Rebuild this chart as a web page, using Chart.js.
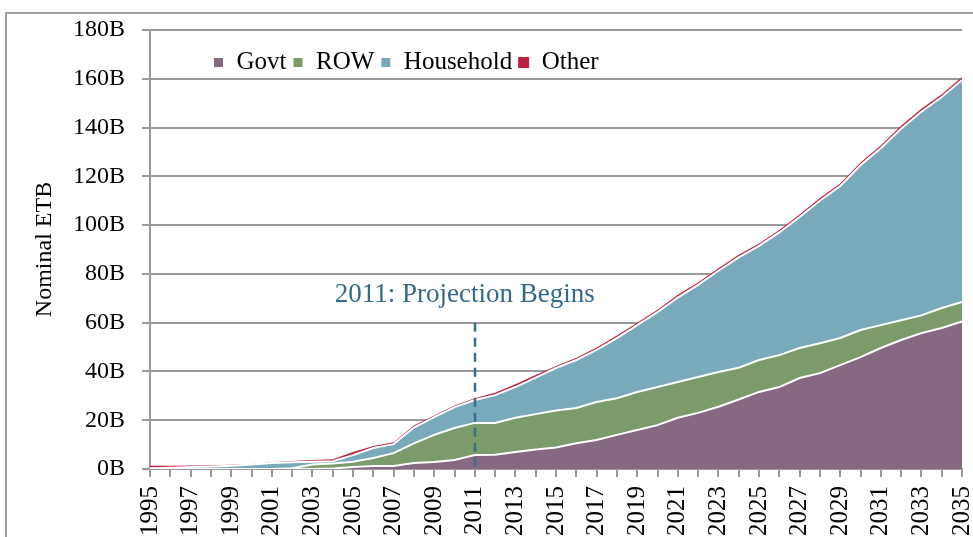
<!DOCTYPE html>
<html>
<head>
<meta charset="utf-8">
<script src="https://cdn.jsdelivr.net/npm/chart.js@4.4.1/dist/chart.umd.min.js"></script>
<style>
  html, body { margin: 0; padding: 0; background: #fff; overflow: hidden; }
  #wrap { position: relative; width: 973px; height: 537px; }
  #frame { position: absolute; left: 5px; top: 12px; width: 1100px; height: 700px;
           border-left: 2px solid #a0a0a0; border-top: 2px solid #a0a0a0; }
  canvas { position: absolute; left: 0; top: 0; }
</style>
</head>
<body>
<div id="wrap">
  <div id="frame"></div>
  <canvas id="c" width="973" height="537"></canvas>
</div>
<script>
const years = ['1995','1996','1997','1998','1999','2000','2001','2002','2003','2004',
  '2005','2006','2007','2008','2009','2010','2011','2012','2013','2014',
  '2015','2016','2017','2018','2019','2020','2021','2022','2023','2024',
  '2025','2026','2027','2028','2029','2030','2031','2032','2033','2034','2035'];

const govt = [0,0,0,0,0,0,0,0,0,0.2,
  0.8,1.2,1.2,2.5,2.9,3.7,5.7,5.8,7,8,
  8.8,10.6,11.9,14,16,18,21,23,25.5,28.5,
  31.6,33.6,37.3,39.3,42.6,45.9,49.6,52.9,55.7,57.8,60.5];

const row = [0,0,0,0,0,0,0,0.3,1.8,2.1,
  2.2,3.3,5.3,8.0,11.1,13.1,13.2,13.1,14,14.5,
  15.2,14.4,15.6,15,15.6,15.6,14.7,14.7,14.3,13,
  13.1,13.1,12.3,12.3,11.1,11.1,9.4,8.1,7.3,8.2,8.0];

const household = [0.3,0.5,0.8,1,1.3,1.8,2.5,2.5,1.2,0.9,
  2.7,4.1,3.7,6.5,7.3,8.6,9.4,11.4,12.6,15,
  17.4,19.7,21.3,24.7,27.4,30.7,34.6,37.8,41.5,45.3,
  46.8,50.3,53.7,58.4,62.3,67.5,72.5,78.5,83.5,86.5,91];

const other = [1,0.8,0.6,0.5,0.4,0.3,0.3,0.5,0.7,0.8,
  1.3,0.8,0.8,0.8,0.6,0.6,0.7,1,1.2,1,
  0.8,0.9,1,1,1,1,1.1,1,1,1,
  1,1,1.1,1.1,1.1,1.2,1.1,1.2,1.2,1.2,1.2];

const yTicks = [0,20,40,60,80,100,120,140,160,180];
const seriesNames = ['Govt','ROW','Household','Other'];
const annotationText = '2011: Projection Begins';
const projectionYear = '2011';

const SERIF = '"Liberation Serif", "DejaVu Serif", serif';

const annotationPlugin = {
  id: 'projection',
  beforeLayout(chart) {
    const lg = chart.legend;
    if (lg && !lg._zeroPatched) {
      const origFit = lg.fit.bind(lg);
      lg.fit = function() { origFit(); this.height = 0; };
      lg._zeroPatched = true;
    }
  },
  afterLayout(chart) {
    const lg = chart.legend;
    if (lg) {
      lg.left = chart.chartArea.left + 57;
      lg.right = chart.chartArea.right;
      lg.top = chart.chartArea.top + 14;
      lg.bottom = lg.top + 45;
      lg.width = lg.right - lg.left;
      lg.height = lg.bottom - lg.top;
    }
  },
  afterDatasetsDraw(chart) {
    const {ctx, scales: {x, y}} = chart;
    const idx = years.indexOf(projectionYear);
    const px = Math.round(x.getPixelForValue(idx));
    ctx.save();
    ctx.strokeStyle = '#36708a';
    ctx.lineWidth = 2.5;
    ctx.setLineDash([9, 6]);
    ctx.beginPath();
    ctx.moveTo(px, y.getPixelForValue(60));
    ctx.lineTo(px, y.getPixelForValue(0));
    ctx.stroke();
    ctx.setLineDash([]);
    ctx.fillStyle = '#33698a';
    ctx.font = '27px ' + SERIF;
    ctx.textAlign = 'center';
    ctx.textBaseline = 'middle';
    ctx.fillText(annotationText, x.getPixelForValue(idx - 0.5), y.getPixelForValue(71.5));
    ctx.restore();
  }
};

const mk = (label, data, color, fill, bw) => ({
  label, data, backgroundColor: color, borderColor: bw ? '#ffffff' : color,
  borderWidth: bw, fill, pointRadius: 0, pointHoverRadius: 0, tension: 0
});

new Chart(document.getElementById('c'), {
  type: 'line',
  data: {
    labels: years,
    datasets: [
      mk(seriesNames[0], govt, '#876882', 'origin', 2),
      mk(seriesNames[1], row, '#7b9c6a', '-1', 2),
      mk(seriesNames[2], household, '#78aabb', '-1', 2),
      mk(seriesNames[3], other, '#c0203f', '-1', 0)
    ]
  },
  options: {
    responsive: false,
    animation: false,
    devicePixelRatio: 1,
    layout: { padding: { left: 26, right: 11, top: 30, bottom: 0 } },
    plugins: {
      legend: {
        position: 'top',
        align: 'start',
        labels: {
          boxWidth: 11, boxHeight: 11, padding: 6,
          color: '#000', font: { family: SERIF, size: 25 }
        }
      },
      tooltip: { enabled: false }
    },
    scales: {
      x: {
        offset: false,
        grid: { drawOnChartArea: false, color: '#9a9a9a', lineWidth: 2, tickLength: 8 },
        border: { color: '#9a9a9a', width: 2 },
        ticks: {
          autoSkip: false, minRotation: 90, maxRotation: 90, padding: 9,
          color: '#000', font: { family: SERIF, size: 25 },
          callback: function(v, i) { return i % 2 === 0 ? years[i] : ''; }
        },
        afterFit(s) { s.height = 68; s.paddingLeft = 0; s.paddingRight = 0; }
      },
      y: {
        stacked: true,
        min: 0, max: 180,
        afterBuildTicks(s) { s.ticks = yTicks.map(v => ({ value: v })); },
        grid: { color: '#9a9a9a', lineWidth: 2, tickLength: 8 },
        border: { color: '#9a9a9a', width: 2 },
        ticks: {
          padding: 17, color: '#000', font: { family: SERIF, size: 24 },
          callback: v => v + 'B'
        },
        title: { display: true, text: 'Nominal ETB', color: '#000', font: { family: SERIF, size: 24 } },
        afterFit(s) { s.width = 124; s.paddingTop = 0; s.paddingBottom = 0; }
      }
    }
  },
  plugins: [annotationPlugin]
});
</script>
</body>
</html>
